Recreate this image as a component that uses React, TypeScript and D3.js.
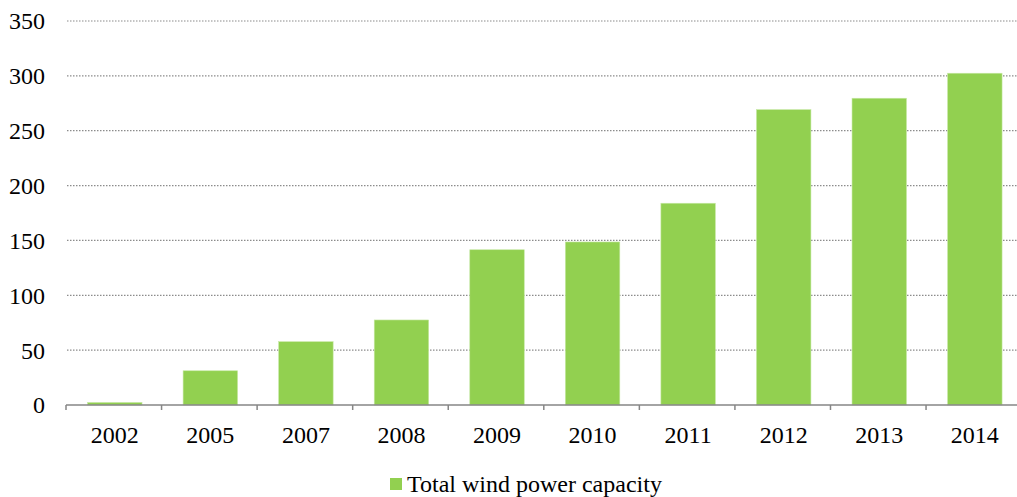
import React from "react";
import * as d3 from "d3";

const categories = ["2002", "2005", "2007", "2008", "2009", "2010", "2011", "2012", "2013", "2014"];
const capacity = [2.3, 31.2, 57.7, 77.5, 141.5, 148.6, 183.9, 269.2, 279.6, 302.4];
const yTicks = [0, 50, 100, 150, 200, 250, 300, 350];
const seriesName = "Total wind power capacity";

export default function App() {
  const W = 1017, H = 497;
  const left = 66, right = 1021.6, top = 21, bottom = 405;
  const x = d3.scaleBand<string>().domain(categories).range([left, right]).paddingInner(0.43).paddingOuter(0.215);
  const xb = d3.scaleBand<string>().domain(categories).range([left, right]);
  const y = d3.scaleLinear().domain([0, 350]).range([bottom, top]);
  const font = "'Liberation Serif', 'Times New Roman', serif";
  return (
    <svg width={W} height={H} style={{ position: "absolute", left: 0, top: 0 }}>
      <rect width={W} height={H} fill="#fff" />
      {yTicks.filter(t => t > 0).map(t => (
        <line key={t} x1={left + 1} x2={W} y1={y(t)} y2={y(t)} stroke="#8c8c8c" strokeWidth={1.2} strokeDasharray="1.5 1.5" />
      ))}
      {categories.map((c, i) => (
        <rect key={c} x={x(c)! + 1} y={y(capacity[i])} width={x.bandwidth()} height={bottom - y(capacity[i])} fill="#92d050" stroke="#c6e8a4" strokeWidth={0.6} />
      ))}
      <line x1={left} x2={W} y1={bottom} y2={bottom} stroke="#868686" strokeWidth={1.5} />
      {categories.map(c => (
        <line key={c} x1={xb(c)!} x2={xb(c)!} y1={bottom} y2={bottom + 5} stroke="#868686" strokeWidth={1.5} />
      ))}
      {yTicks.map(t => (
        <text key={t} x={45} y={y(t)} dy="0.35em" textAnchor="end" fontFamily={font} fontSize={24} fill="#000">{t}</text>
      ))}
      {categories.map(c => (
        <text key={c} x={xb(c)! + xb.bandwidth() / 2 + 1} y={443} textAnchor="middle" fontFamily={font} fontSize={24} fill="#000">{c}</text>
      ))}
      <rect x={390} y={478} width={12} height={12} fill="#92d050" />
      <text x={407} y={492} fontFamily={font} fontSize={24} fill="#000">{seriesName}</text>
    </svg>
  );
}
